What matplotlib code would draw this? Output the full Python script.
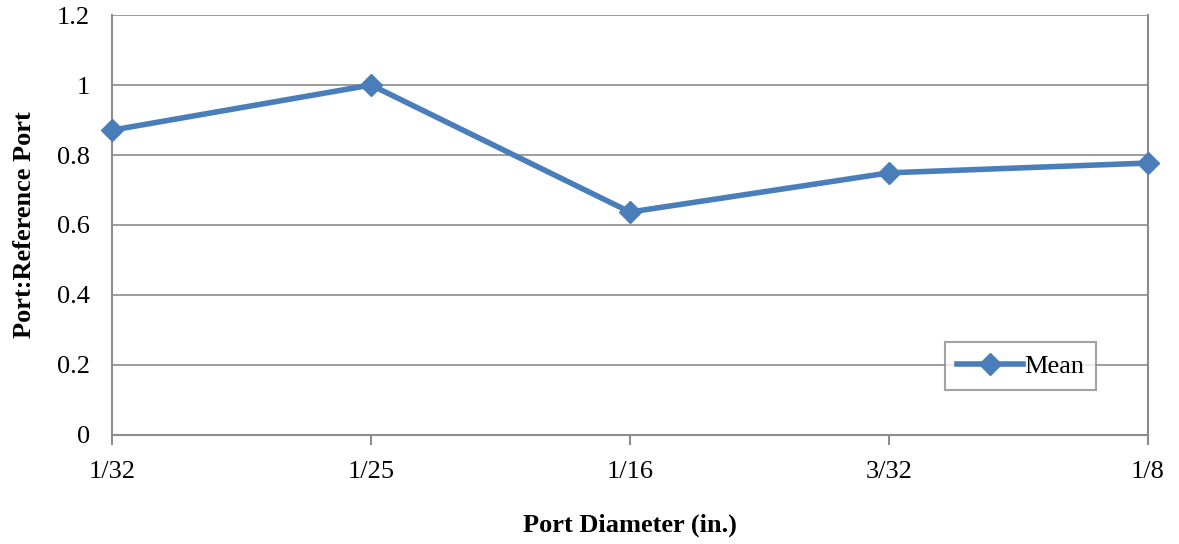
import matplotlib.pyplot as plt

# data
diameters = ['1/32', '1/25', '1/16', '3/32', '1/8']
mean_ratio = [0.871, 1.0, 0.637, 0.749, 0.777]
y_ticks = [0, 0.2, 0.4, 0.6, 0.8, 1, 1.2]
y_tick_labels = ['0', '0.2', '0.4', '0.6', '0.8', '1', '1.2']

plt.rcParams['font.family'] = ['Liberation Serif', 'DejaVu Serif']

fig = plt.figure(figsize=(11.79, 5.44), dpi=100)
ax = fig.add_axes([0.095, 0.2004, 0.8787, 0.772])

x = list(range(len(diameters)))
ax.plot(x, mean_ratio, color='#4a7ebb', linewidth=4, marker='D',
        markersize=11, label='Mean', zorder=3, clip_on=False)

ax.set_xlim(0, len(diameters) - 1)
ax.set_ylim(0, 1.2)
ax.set_yticks(y_ticks)
ax.set_yticklabels(y_tick_labels, fontsize=19)
ax.set_xticks(x)
ax.set_xticklabels(diameters, fontsize=19)
ax.grid(axis='y', color='#8c8c8c', linewidth=1.2)
ax.set_axisbelow(True)

ax.spines['top'].set_visible(False)
for side in ['left', 'bottom', 'right']:
    ax.spines[side].set_color('#8c8c8c')
    ax.spines[side].set_linewidth(1.5)

ax.tick_params(axis='y', length=0, pad=16)
ax.tick_params(axis='x', direction='out', length=7, width=1.5,
               color='#8c8c8c', pad=12)

ax.set_xlabel('Port Diameter (in.)', fontsize=19, fontweight='bold', labelpad=22)
ax.set_ylabel('Port:Reference Port', fontsize=19, fontweight='bold', labelpad=15)

leg = ax.legend(loc='lower right', bbox_to_anchor=(0.950, 0.108), fontsize=19,
                frameon=True, fancybox=False, handlelength=2.5,
                borderpad=0.45, handletextpad=0.05, borderaxespad=0)
leg.get_frame().set_edgecolor('#8c8c8c')
leg.get_frame().set_linewidth(1.5)

fig.savefig('out.png', dpi=100)
